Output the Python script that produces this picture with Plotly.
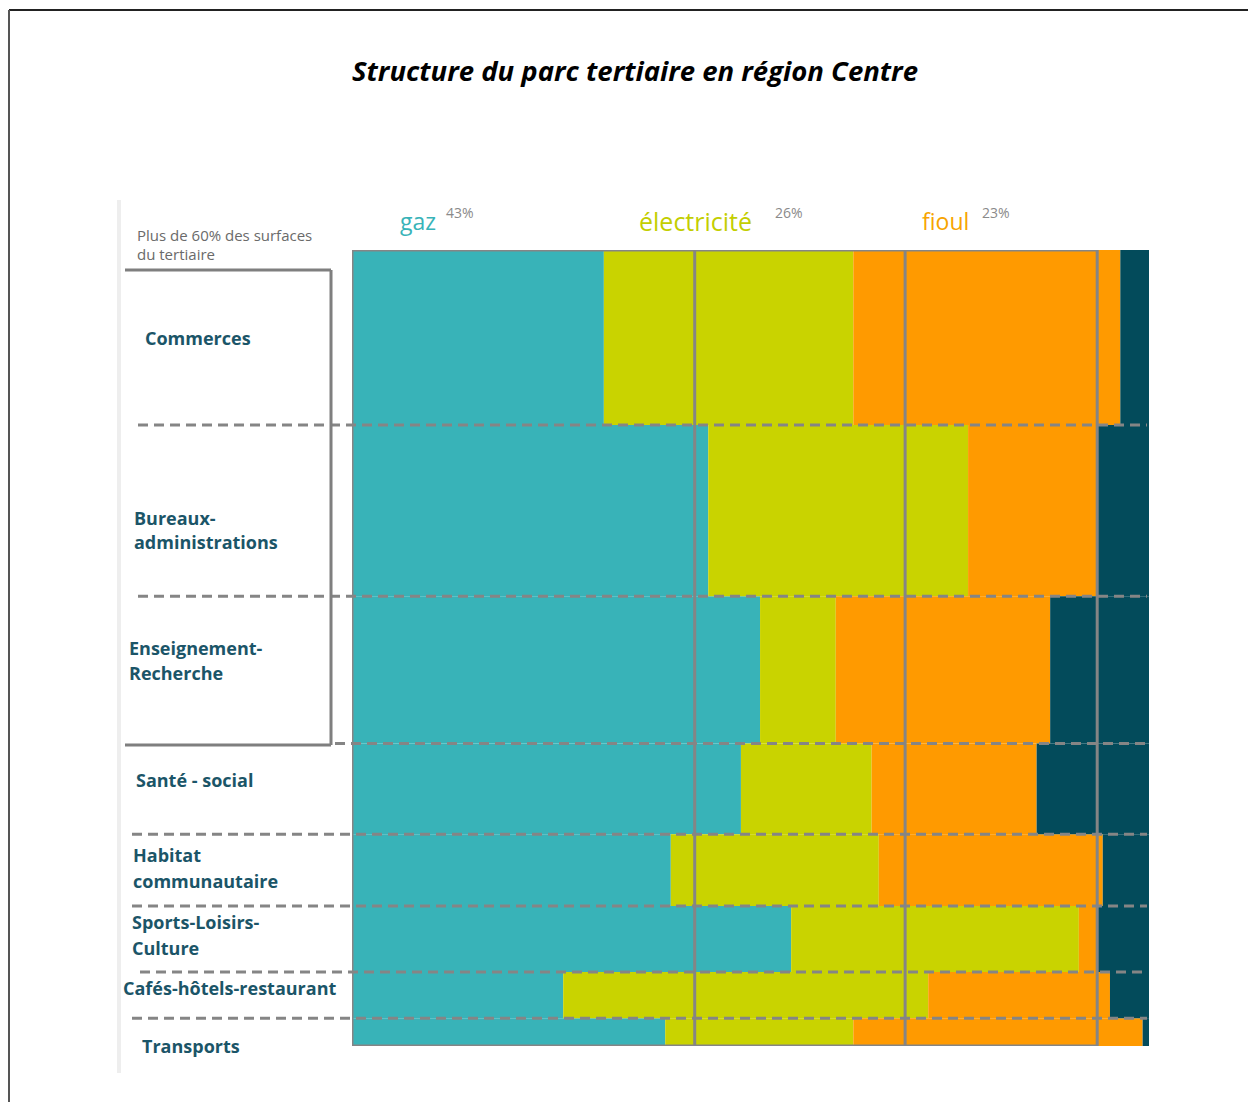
import plotly.graph_objects as go

W, H = 1248, 1102

# Sectors of the tertiary building stock (top to bottom) and their share of floor area (%)
categories = [
    "Commerces", "Bureaux-administrations", "Enseignement-Recherche", "Santé - social",
    "Habitat communautaire", "Sports-Loisirs-Culture", "Cafés-hôtels-restaurant", "Transports",
]
surface_share = [22.0, 21.5, 18.5, 11.4, 9.0, 8.3, 5.8, 3.5]

# Energy mix of each sector (% of the sector)
gaz = [31.6, 44.7, 51.2, 48.8, 40.0, 55.1, 26.5, 39.3]
electricite = [31.3, 32.6, 9.5, 16.4, 26.1, 36.1, 45.8, 23.6]
fioul = [33.5, 16.3, 26.9, 20.7, 28.1, 2.4, 22.8, 36.3]
autres = [3.6, 6.4, 12.4, 14.1, 5.8, 6.4, 4.9, 0.8]

# Regional totals per energy and the column boundaries drawn across the chart
energy_names = ["gaz", "électricité", "fioul"]
energy_totals = [43, 26, 23]
column_bounds = [43.0, 69.4, 93.5]

# Label lines per sector
label_lines = [
    ["Commerces"], ["Bureaux-", "administrations"], ["Enseignement-", "Recherche"],
    ["Santé - social"], ["Habitat", "communautaire"], ["Sports-Loisirs-", "Culture"],
    ["Cafés-hôtels-restaurant"], ["Transports"],
]

COL_GAZ = "#38b3b8"
COL_ELEC = "#c9d300"
COL_FIOUL = "#ff9a00"
COL_AUTRE = "#034b5b"
GRID = "#858585"
LABEL = "#1b5568"


def px(x):
    return x / W


def py(y):
    return 1 - y / H


# Row geometry in the y axis (0 at top, 100 at bottom)
tops, centers = [], []
acc = 0.0
for s in surface_share:
    tops.append(acc)
    centers.append(acc + s / 2)
    acc += s

fig = go.Figure()
series = [(gaz, COL_GAZ), (electricite, COL_ELEC), (fioul, COL_FIOUL), (autres, COL_AUTRE)]
left = [0.0] * len(categories)
for vals, col in series:
    fig.add_trace(go.Bar(
        orientation="h", y=centers, x=vals, base=list(left), width=surface_share,
        marker=dict(color=col, line=dict(width=0)), showlegend=False,
        customdata=categories, hovertemplate="%{customdata}: %{x:.1f}%<extra></extra>",
    ))
    left = [l + v for l, v in zip(left, vals)]

shapes = []
# Light margin strip on the left
shapes.append(dict(type="line", xref="paper", yref="paper", x0=px(119), x1=px(119),
                   y0=py(200), y1=py(1073), line=dict(color="#eeeeee", width=4)))
# Outer frame (top and left edges)
shapes.append(dict(type="line", xref="paper", yref="paper", x0=px(9), x1=1,
                   y0=py(10), y1=py(10), line=dict(color="#222222", width=2)))
shapes.append(dict(type="line", xref="paper", yref="paper", x0=px(9), x1=px(9),
                   y0=py(10), y1=0, line=dict(color="#555555", width=2)))

# Dashed separators between sectors
dash_starts = [138, 138, 335, 132, 132, 140, 132]
for i, xs in enumerate(dash_starts):
    yb = tops[i + 1]
    shapes.append(dict(type="line", xref="paper", yref="y", x0=px(xs), x1=px(1147),
                       y0=yb, y1=yb, layer="above",
                       line=dict(color=GRID, width=3, dash="10px,6px")))

# Frame of the energy columns and inner column boundaries
shapes.append(dict(type="rect", xref="x", yref="y", x0=0, x1=column_bounds[-1], y0=0, y1=100,
                   layer="above", line=dict(color=GRID, width=3)))
for cb in column_bounds[:-1]:
    shapes.append(dict(type="line", xref="x", yref="y", x0=cb, x1=cb, y0=0, y1=100,
                       layer="above", line=dict(color=GRID, width=3)))

# Bracket around the three largest sectors
for (x0, y0, x1, y1) in [(125, 270, 331, 270), (331, 270, 331, 745), (125, 745, 331, 745)]:
    shapes.append(dict(type="line", xref="paper", yref="paper", x0=px(x0), x1=px(x1),
                       y0=py(y0), y1=py(y1), line=dict(color="#7f7f7f", width=3)))

annotations = []
annotations.append(dict(
    text="<b><i>Structure du parc tertiaire en région Centre</i></b>",
    xref="paper", yref="paper", x=px(635), y=py(70), xanchor="center", yanchor="middle",
    showarrow=False, font=dict(family="Open Sans", size=27.5, color="#000000")))

annotations.append(dict(text="Plus de 60% des surfaces", xref="paper", yref="paper",
                        x=px(135), y=py(235), xanchor="left", yanchor="middle", showarrow=False,
                        font=dict(family="Open Sans", size=15, color="#6a6a6a")))
annotations.append(dict(text="du tertiaire", xref="paper", yref="paper",
                        x=px(135), y=py(254), xanchor="left", yanchor="middle", showarrow=False,
                        font=dict(family="Open Sans", size=15, color="#6a6a6a")))

# Energy headers
head_pos = [(398, 444), (637, 773), (920, 980)]
head_size = [23, 25, 23]
head_col = [COL_GAZ, "#c3ce00", "#f7a400"]
for name, tot, (xn, xp), sz, col in zip(energy_names, energy_totals, head_pos, head_size, head_col):
    annotations.append(dict(text=name, xref="paper", yref="paper", x=px(xn), y=py(221),
                            xanchor="left", yanchor="middle", showarrow=False,
                            font=dict(family="Open Sans", size=sz, color=col)))
    annotations.append(dict(text=f"{tot}%", xref="paper", yref="paper", x=px(xp), y=py(212),
                            xanchor="left", yanchor="middle", showarrow=False,
                            font=dict(family="Open Sans", size=14, color="#8a8a8a")))

# Sector labels
label_pos = [
    (143, [338]), (132, [518, 542]), (127, [648, 673]), (134, [780]),
    (131, [855, 881]), (130, [922, 948]), (121, [988]), (140, [1046]),
]
for lines, (lx, ys) in zip(label_lines, label_pos):
    for t, ly in zip(lines, ys):
        annotations.append(dict(text=f"<b>{t}</b>", xref="paper", yref="paper", x=px(lx), y=py(ly),
                                xanchor="left", yanchor="middle", showarrow=False,
                                font=dict(family="Open Sans", size=18, color=LABEL)))

fig.update_layout(
    width=W, height=H, autosize=False,
    margin=dict(l=0, r=0, t=0, b=0, pad=0),
    paper_bgcolor="white", plot_bgcolor="white",
    barmode="overlay",
    xaxis=dict(range=[0, 100], domain=[px(352), px(1149)], visible=False, fixedrange=True),
    yaxis=dict(range=[100, 0], domain=[py(1046), py(250)], visible=False, fixedrange=True),
    shapes=shapes, annotations=annotations,
)

fig.write_html("out.html")
